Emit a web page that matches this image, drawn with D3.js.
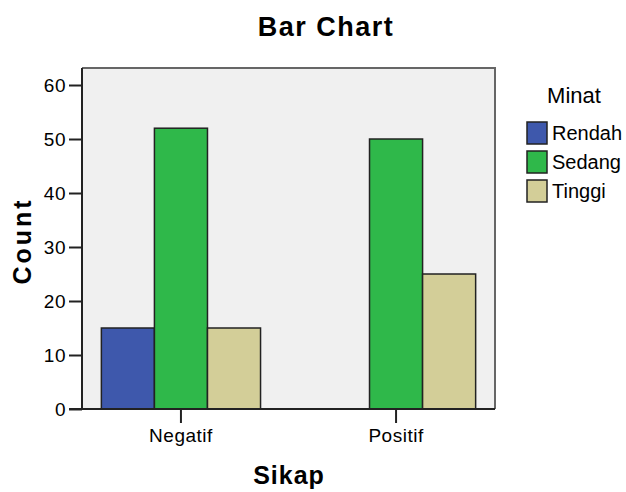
<!DOCTYPE html>
<html>
<head>
<meta charset="utf-8">
<script src="https://cdn.jsdelivr.net/npm/d3@7"></script>
<style>
body{margin:0;background:#fff;}
text{font-family:"Liberation Sans",Arial,sans-serif;fill:#000;}
</style>
</head>
<body>
<div id="chart"></div>
<script>
var categories = ["Negatif", "Positif"];
var groups = ["Rendah", "Sedang", "Tinggi"];
var rendah = [15, 0];
var sedang = [52, 50];
var tinggi = [15, 25];
var yTicks = [0, 10, 20, 30, 40, 50, 60];
var colors = ["#3e58ac", "#2fb84a", "#d3ce98"];

var chart = {};
chart.width = 626;
chart.height = 492;
chart.plot = {left:82, right:495, top:68, bottom:409};

var svg = d3.select("#chart").append("svg")
	.attr("width", chart.width).attr("height", chart.height);

//plot background
svg.append("rect")
	.attr("x", chart.plot.left).attr("y", chart.plot.top)
	.attr("width", chart.plot.right - chart.plot.left)
	.attr("height", chart.plot.bottom - chart.plot.top)
	.attr("fill", "#f0f0f0");

var x = d3.scaleBand().domain(categories)
	.range([chart.plot.left, chart.plot.right])
	.paddingInner(0.26).paddingOuter(0.09);
var xs = d3.scaleBand().domain(groups).range([0, x.bandwidth()]);
var y = d3.scaleLinear().domain([0, 63.15]).range([chart.plot.bottom, chart.plot.top]);

var series = [rendah, sedang, tinggi];
var rows = [];
categories.forEach(function(c, i){
	groups.forEach(function(g, j){
		rows.push({cat:c, grp:g, val:series[j][i], col:colors[j]});
	});
});

svg.append("g").selectAll("rect.bar").data(rows.filter(function(d){return d.val > 0;}))
	.enter().append("rect").classed("bar", true)
	.attr("x", function(d){return x(d.cat) + xs(d.grp);})
	.attr("y", function(d){return y(d.val);})
	.attr("width", xs.bandwidth())
	.attr("height", function(d){return y(0) - y(d.val);})
	.attr("fill", function(d){return d.col;})
	.attr("stroke", "#222").attr("stroke-width", 1.5);

//frame: top and right in grey
svg.append("path")
	.attr("d", "M" + chart.plot.left + "," + chart.plot.top + "H" + chart.plot.right + "V" + chart.plot.bottom)
	.attr("fill", "none").attr("stroke", "#666").attr("stroke-width", 2);

//y axis
var yAxis = svg.append("g").attr("transform", "translate(" + chart.plot.left + ",0)")
	.call(d3.axisLeft(y).tickValues(yTicks).tickSize(13).tickPadding(3));
yAxis.select(".domain").attr("stroke", "#222").attr("stroke-width", 2)
	.attr("d", "M0," + chart.plot.top + "V" + chart.plot.bottom);
yAxis.selectAll(".tick line").attr("stroke", "#222").attr("stroke-width", 2);
yAxis.selectAll(".tick text").style("font-size", "19px").attr("fill", "#222")
	.style("font-family", "Liberation Sans, Arial, sans-serif").style("letter-spacing", "0.5px");

//x axis
var xAxis = svg.append("g").attr("transform", "translate(0," + chart.plot.bottom + ")")
	.call(d3.axisBottom(x).tickSize(14).tickPadding(6));
xAxis.select(".domain").attr("stroke", "#222").attr("stroke-width", 2)
	.attr("d", "M" + (chart.plot.left - 13) + ",0H" + chart.plot.right);
xAxis.selectAll(".tick line").attr("stroke", "#222").attr("stroke-width", 2);
xAxis.selectAll(".tick text").style("font-size", "19px").attr("fill", "#222")
	.style("font-family", "Liberation Sans, Arial, sans-serif").style("letter-spacing", "0.5px");

//titles
svg.append("text").attr("x", 326).attr("y", 36).attr("text-anchor", "middle")
	.style("font-size", "27px").style("font-weight", "bold").style("letter-spacing", "1.5px").text("Bar Chart");
svg.append("text").attr("x", 289).attr("y", 484).attr("text-anchor", "middle")
	.style("font-size", "25px").style("font-weight", "bold").style("letter-spacing", "1px").text("Sikap");
svg.append("text").attr("transform", "translate(31,241) rotate(-90)").attr("text-anchor", "middle")
	.style("font-size", "25px").style("font-weight", "bold").style("letter-spacing", "3px").text("Count");

//legend
var legend = svg.append("g");
legend.append("text").attr("x", 574).attr("y", 103).attr("text-anchor", "middle")
	.style("font-size", "22px").attr("fill", "#222").text("Minat");
var li = legend.selectAll("g.item").data(groups).enter().append("g").classed("item", true)
	.attr("transform", function(d, i){return "translate(527," + (122 + i*29) + ")";});
li.append("rect").attr("width", 20).attr("height", 22)
	.attr("fill", function(d, i){return colors[i];})
	.attr("stroke", "#222").attr("stroke-width", 1.5);
li.append("text").attr("x", 25).attr("y", 18)
	.style("font-size", "20px").attr("fill", "#222").text(function(d){return d;});
</script>
</body>
</html>
